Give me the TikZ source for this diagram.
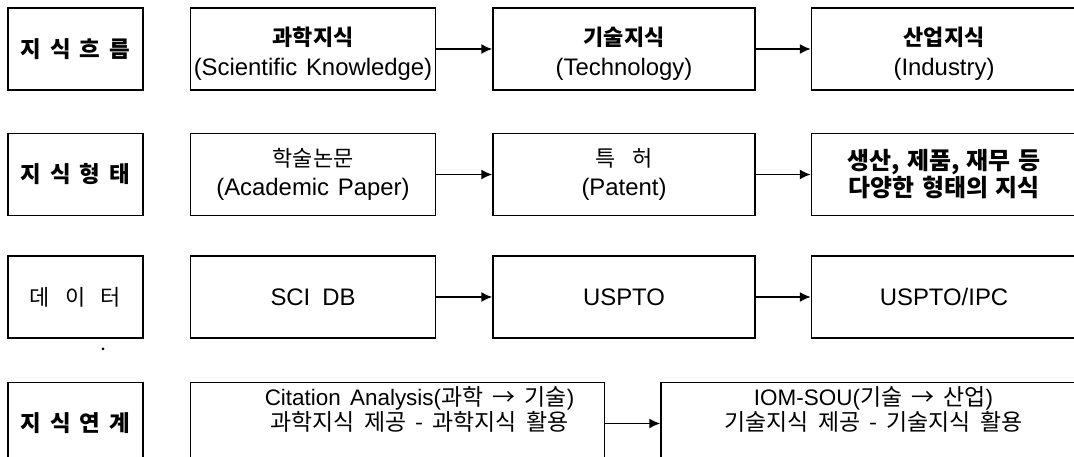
\documentclass[tikz,border=0pt]{standalone}
\usepackage{fontspec}
\setmainfont{Noto Sans CJK KR}
\newfontfamily\latf[Scale=1.09]{Liberation Sans}
\newfontfamily\latr[Scale=0.98]{Liberation Sans}
\usetikzlibrary{arrows.meta,positioning}
\newcommand\kspace[1]{\spaceskip=#1em\relax}
\newcommand\topstrut{\rule{0pt}{28bp}}

\begin{document}
\begin{tikzpicture}[x=1bp, y=-1bp,
    headbox/.style={draw, line width=1.5bp, minimum width=135bp, minimum height=82bp,
      inner sep=0pt, align=center, font=\fontsize{22.5}{26}\selectfont\bfseries\kspace{.4}},
    box/.style={draw, line width=1.5bp, minimum height=82bp, inner sep=0pt,
      align=center, font=\fontsize{22}{29}\selectfont\kspace{.4}},
    topbox/.style={box, font=\fontsize{22}{31}\selectfont\kspace{.4}},
    linkbox/.style={box, text depth=30bp, font=\fontsize{23}{26}\selectfont\kspace{.4}},
    arrow/.style={-{Latex[length=11bp,width=10bp]}, line width=1.5bp}
  ]
    \useasboundingbox (0,0) rectangle (1074,457);
    \clip (0,0) rectangle (1074,457);

    % 지식흐름
    \node[headbox] (flowlab) at (75.5,49) {지 식 흐 름};
    \node[topbox, minimum width=245bp, right=46bp of flowlab] (sci) {\topstrut{\bfseries 과학지식}\\{\latf (Scientific Knowledge)}};
    \node[topbox, minimum width=262bp, right=56bp of sci] (tech) {\topstrut{\bfseries 기술지식}\\{\latf (Technology)}};
    \node[topbox, minimum width=265bp, right=55bp of tech] (ind) {\topstrut{\bfseries 산업지식}\\{\latf (Industry)}};

    % 지식형태
    \node[headbox, below=42bp of flowlab] (formlab) {지 식 형 태};
    \node[box, minimum width=245bp, right=46bp of formlab] (paper) {학술논문\\{\latf (Academic Paper)}};
    \node[box, minimum width=262bp, right=56bp of paper] (patent) {특\hspace{.8em}허\\{\latf (Patent)}};
    \node[box, minimum width=265bp, right=55bp of patent, font=\fontsize{24}{27}\selectfont\bfseries\kspace{.3}] (various) {생산, 제품, 재무 등\\다양한 형태의 지식};

    % 데이터
    \node[headbox, below=39bp of formlab, font=\fontsize{22}{26}\selectfont] (datalab) {데\hspace{.7em}이\hspace{.7em}터};
    \node[box, minimum width=245bp, right=46bp of datalab] (scidb) {\latf SCI\hspace{.5em}DB};
    \node[box, minimum width=262bp, right=56bp of scidb] (uspto) {\latf USPTO};
    \node[box, minimum width=265bp, right=55bp of uspto] (ipc) {\latf USPTO/IPC};

    % 지식연계
    \node[headbox, below=43bp of datalab] (linklab) {지 식 연 계};
    \node[linkbox, minimum width=414bp, right=46bp of linklab] (cite)
      {\hspace*{44bp}{\latr Citation Analysis(}과학 → 기술{\latr )}\\\hspace*{44bp}과학지식 제공 - 과학지식 활용};
    \node[linkbox, minimum width=425bp, right=55bp of cite] (iom)
      {{\latr IOM-SOU(}기술 → 산업{\latr )}\\기술지식 제공 - 기술지식 활용};

    \draw[arrow] (sci) -- (tech);
    \draw[arrow] (tech) -- (ind);
    \draw[arrow] (paper) -- (patent);
    \draw[arrow] (patent) -- (various);
    \draw[arrow] (scidb) -- (uspto);
    \draw[arrow] (uspto) -- (ipc);
    \draw[arrow] (cite) -- (iom);

    \fill (103,349) circle (1.5bp);
  \end{tikzpicture}
\end{document}
